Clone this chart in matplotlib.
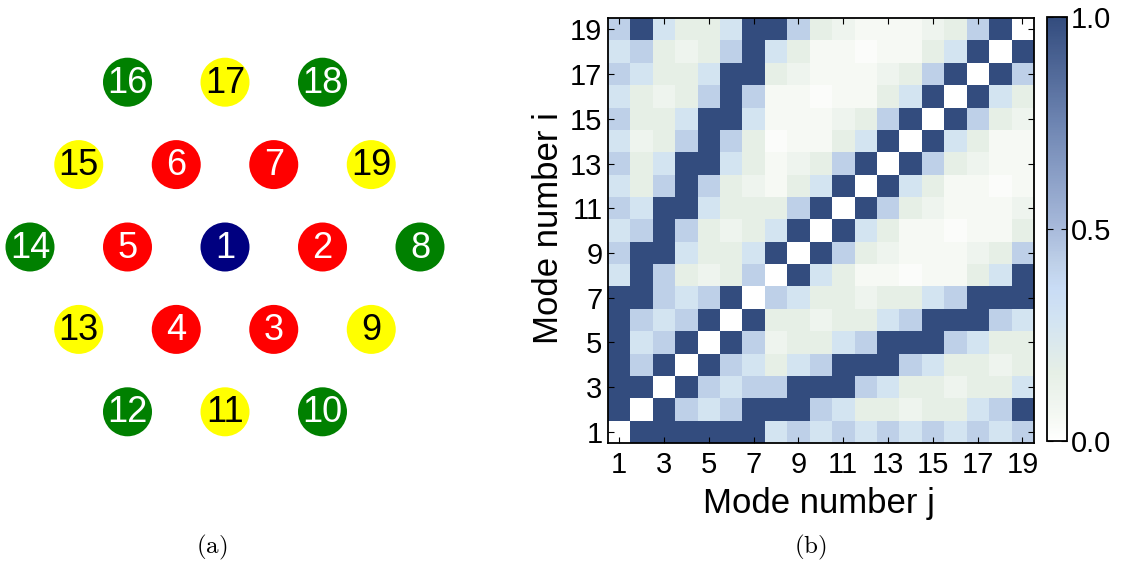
import matplotlib
matplotlib.use("Agg")
import matplotlib.pyplot as plt
import numpy as np
from matplotlib.patches import Circle
from matplotlib.colors import LinearSegmentedColormap

plt.rcParams['font.family'] = ['Liberation Sans', 'DejaVu Sans']
plt.rcParams['mathtext.fontset'] = 'cm'

# ---- panel (a): 19-core hexagonal layout ----
mode_ids = list(range(1, 20))
# lattice coordinates (u: horizontal step, v: row, up positive)
lattice_u = [0, 1, 0.5, -0.5, -1, -0.5, 0.5,
             2, 1.5, 1, 0, -1, -1.5, -2, -1.5, -1, 0, 1, 1.5]
lattice_v = [0, 0, -1, -1, 0, 1, 1,
             0, -1, -2, -2, -2, -1, 0, 1, 2, 2, 2, 1]
mode_colors = ['#000080'] + ['#ff0000'] * 6 + \
    ['#008000', '#ffff00'] * 6
text_colors = ['white'] + ['white'] * 6 + ['white', 'black'] * 6

# ---- panel (b): coupling matrix, rows i = 1..19 (bottom to top) ----
coupling = [
    [0, 1, 1, 1, 1, 1, 1, .28, .42, .28, .42, .28, .42, .28, .42, .28, .42, .28, .42],
    [1, 0, 1, .42, .28, .42, 1, 1, 1, .42, .28, .16, .16, .10, .16, .16, .28, .42, 1],
    [1, 1, 0, 1, .42, .28, .42, .42, 1, 1, 1, .42, .28, .16, .16, .10, .16, .16, .28],
    [1, .42, 1, 0, 1, .42, .28, .16, .28, .42, 1, 1, 1, .42, .28, .16, .16, .10, .16],
    [1, .28, .42, 1, 0, 1, .42, .10, .16, .16, .28, .42, 1, 1, 1, .42, .28, .16, .16],
    [1, .42, .28, .42, 1, 0, 1, .16, .16, .10, .16, .16, .28, .42, 1, 1, 1, .42, .28],
    [1, 1, .42, .28, .42, 1, 0, .42, .28, .16, .16, .10, .16, .16, .28, .42, 1, 1, 1],
    [.28, 1, .42, .16, .10, .16, .42, 0, 1, .28, .16, .05, .05, .02, .05, .05, .16, .28, 1],
    [.42, 1, 1, .28, .16, .16, .28, 1, 0, 1, .42, .16, .10, .05, .05, .05, .10, .16, .42],
    [.28, .42, 1, .42, .16, .10, .16, .28, 1, 0, 1, .28, .16, .05, .05, .02, .05, .05, .16],
    [.42, .28, 1, 1, .28, .16, .16, .16, .42, 1, 0, 1, .42, .16, .10, .05, .05, .05, .10],
    [.28, .16, .42, 1, .42, .16, .10, .05, .16, .28, 1, 0, 1, .28, .16, .05, .05, .02, .05],
    [.42, .16, .28, 1, 1, .28, .16, .05, .10, .16, .42, 1, 0, 1, .42, .16, .10, .05, .05],
    [.28, .10, .16, .42, 1, .42, .16, .02, .05, .05, .16, .28, 1, 0, 1, .28, .16, .05, .05],
    [.42, .16, .16, .28, 1, 1, .28, .05, .05, .05, .10, .16, .42, 1, 0, 1, .42, .16, .10],
    [.28, .16, .10, .16, .42, 1, .42, .05, .05, .02, .05, .05, .16, .28, 1, 0, 1, .28, .16],
    [.42, .28, .16, .16, .28, 1, 1, .16, .10, .05, .05, .05, .10, .16, .42, 1, 0, 1, .42],
    [.28, .42, .16, .10, .16, .42, 1, .28, .16, .05, .05, .02, .05, .05, .16, .28, 1, 0, 1],
    [.42, 1, .28, .16, .16, .28, 1, 1, .42, .16, .10, .05, .05, .05, .10, .16, .42, 1, 0],
]
tick_values = list(range(1, 20, 2))
cbar_ticks = [0.0, 0.5, 1.0]
cbar_labels = ['0.0', '0.5', '1.0']

W, H = 1131, 562
fig = plt.figure(figsize=(W / 100, H / 100), dpi=100)

# panel (a) axes use pixel units so circles stay round
pw = 460
ax_a = fig.add_axes([0, 0, pw / W, 1])
ax_a.set_xlim(0, pw)
ax_a.set_ylim(H, 0)
ax_a.axis('off')
cx0, cy0, du, dv, rad = 225, 247, 97.5, 82.4, 24.5
for m, u, v, fc, tc in zip(mode_ids, lattice_u, lattice_v, mode_colors, text_colors):
    x = cx0 + du * u
    y = cy0 - dv * v
    ax_a.add_patch(Circle((x, y), rad, facecolor=fc, edgecolor='none'))
    ax_a.text(x, y + 1, str(m), color=tc, fontsize=26, ha='center', va='center')

fig.text(212 / W, 1 - 547 / H, r'$\mathrm{(a)}$', fontsize=18, ha='center', va='center')
fig.text(810 / W, 1 - 547 / H, r'$\mathrm{(b)}$', fontsize=18, ha='center', va='center')

# panel (b) heatmap
cmap = LinearSegmentedColormap.from_list('coupling', [
    (0.00, '#ffffff'),
    (0.05, '#f6f9f4'),
    (0.10, '#eef4ee'),
    (0.16, '#e6efe6'),
    (0.28, '#d3e4f2'),
    (0.36, '#c9dcf5'),
    (0.42, '#bed0e8'),
    (0.50, '#a8badb'),
    (0.75, '#6e85b2'),
    (1.00, '#334c7e'),
], N=256)

hx0, hx1, hy0, hy1 = 608, 1033.6, 18.3, 443
ax_b = fig.add_axes([hx0 / W, 1 - hy1 / H, (hx1 - hx0) / W, (hy1 - hy0) / H])
mat = np.array(coupling)
n = mat.shape[0]
im = ax_b.imshow(mat, origin='lower', cmap=cmap, vmin=0, vmax=1,
                 extent=(0.5, n + 0.5, 0.5, n + 0.5), aspect='auto',
                 interpolation='nearest')
ax_b.set_xticks(tick_values)
ax_b.set_yticks(tick_values)
ax_b.tick_params(direction='in', top=True, right=True, length=4, width=0.8,
                 labelsize=21)
ax_b.tick_params(axis='x', pad=6)
ax_b.tick_params(axis='y', pad=4)
for s in ax_b.spines.values():
    s.set_linewidth(1.3)

fig.text(819 / W, 1 - 513 / H, 'Mode number j', fontsize=25, ha='center', va='baseline')
fig.text(548 / W, 1 - 228 / H, 'Mode number i', fontsize=25, ha='center', va='center',
         rotation=90)

# colorbar
bx0, bx1, by0, by1 = 1047, 1067, 17.3, 441
cax = fig.add_axes([bx0 / W, 1 - by1 / H, (bx1 - bx0) / W, (by1 - by0) / H])
cb = fig.colorbar(im, cax=cax, ticks=cbar_ticks)
cb.ax.set_yticklabels(cbar_labels)
cb.ax.tick_params(direction='in', left=True, right=True, length=4, width=0.8,
                  labelsize=21, pad=3)
cb.outline.set_linewidth(1.3)

fig.savefig('out.png', dpi=100)
